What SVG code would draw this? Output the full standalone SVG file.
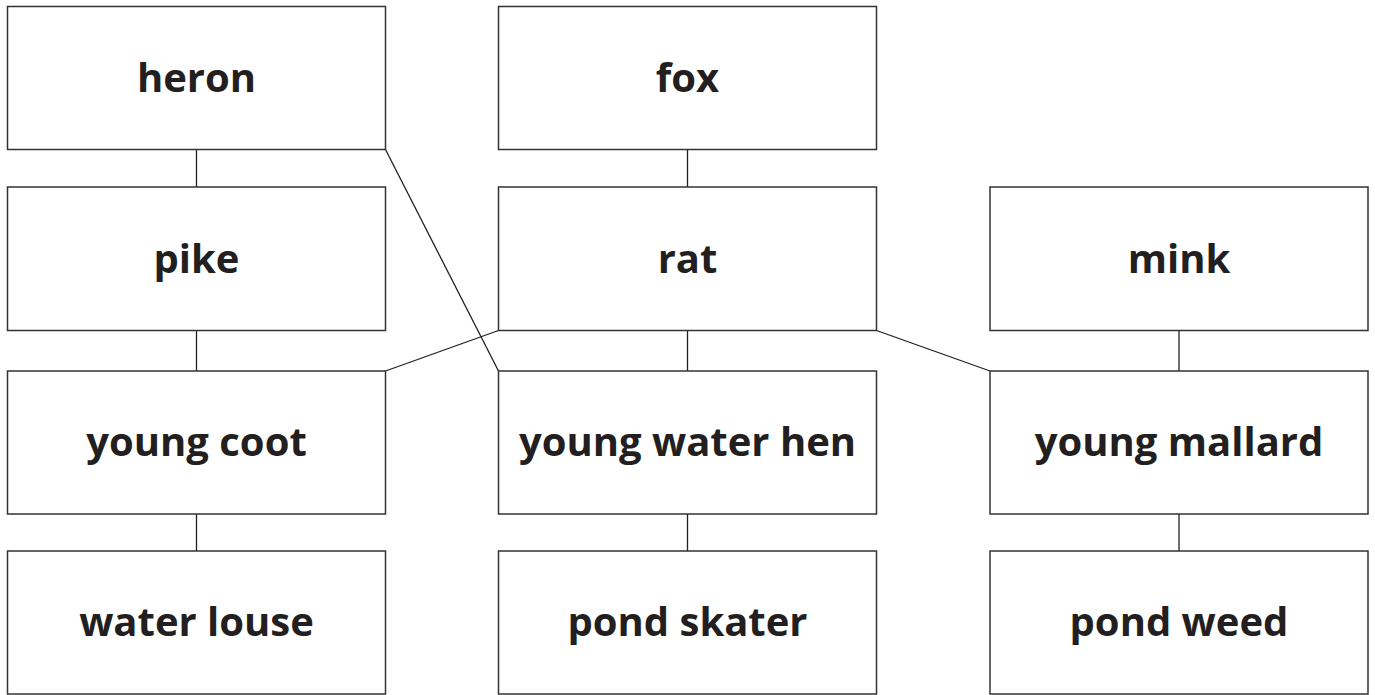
<svg xmlns="http://www.w3.org/2000/svg" width="1375" height="695" viewBox="0 0 1375 695">
<style>
.box{fill:#fff;stroke:#333;stroke-width:1.5}
.lbl{font-family:"Open Sans",sans-serif;font-weight:700;font-size:40px;fill:#231f20;text-anchor:middle}
.con{stroke:#231f20;stroke-width:1.3;fill:none}
</style>
<rect width="1375" height="695" fill="#fff"/>
<g id="connectors">
<line class="con" x1="196.5" y1="149.5" x2="196.5" y2="187"/>
<line class="con" x1="196.5" y1="330.5" x2="196.5" y2="371"/>
<line class="con" x1="196.5" y1="514" x2="196.5" y2="551"/>
<line class="con" x1="687.5" y1="149.5" x2="687.5" y2="187"/>
<line class="con" x1="687.5" y1="330.5" x2="687.5" y2="371"/>
<line class="con" x1="687.5" y1="514" x2="687.5" y2="551"/>
<line class="con" x1="1179" y1="330.5" x2="1179" y2="371"/>
<line class="con" x1="1179" y1="514" x2="1179" y2="551"/>
<line class="con" x1="385.5" y1="149.5" x2="498.5" y2="371"/>
<line class="con" x1="498.5" y1="330.5" x2="385.5" y2="371"/>
<line class="con" x1="876.5" y1="330.5" x2="990" y2="371"/>
</g>
<g id="heron"><rect class="box" x="7.5" y="6.5" width="378" height="143"/><text class="lbl" x="196.5" y="92">heron</text></g>
<g id="fox"><rect class="box" x="498.5" y="6.5" width="378" height="143"/><text class="lbl" x="687.5" y="92">fox</text></g>
<g id="pike"><rect class="box" x="7.5" y="187" width="378" height="143.5"/><text class="lbl" x="196.5" y="273">pike</text></g>
<g id="rat"><rect class="box" x="498.5" y="187" width="378" height="143.5"/><text class="lbl" x="687.5" y="273">rat</text></g>
<g id="mink"><rect class="box" x="990" y="187" width="378" height="143.5"/><text class="lbl" x="1179" y="273">mink</text></g>
<g id="young-coot"><rect class="box" x="7.5" y="371" width="378" height="143"/><text class="lbl" x="196.5" y="456">young coot</text></g>
<g id="young-water-hen"><rect class="box" x="498.5" y="371" width="378" height="143"/><text class="lbl" x="687.5" y="456">young water hen</text></g>
<g id="young-mallard"><rect class="box" x="990" y="371" width="378" height="143"/><text class="lbl" x="1179" y="456">young mallard</text></g>
<g id="water-louse"><rect class="box" x="7.5" y="551" width="378" height="143"/><text class="lbl" x="196.5" y="636">water louse</text></g>
<g id="pond-skater"><rect class="box" x="498.5" y="551" width="378" height="143"/><text class="lbl" x="687.5" y="636">pond skater</text></g>
<g id="pond-weed"><rect class="box" x="990" y="551" width="378" height="143"/><text class="lbl" x="1179" y="636">pond weed</text></g>
</svg>
